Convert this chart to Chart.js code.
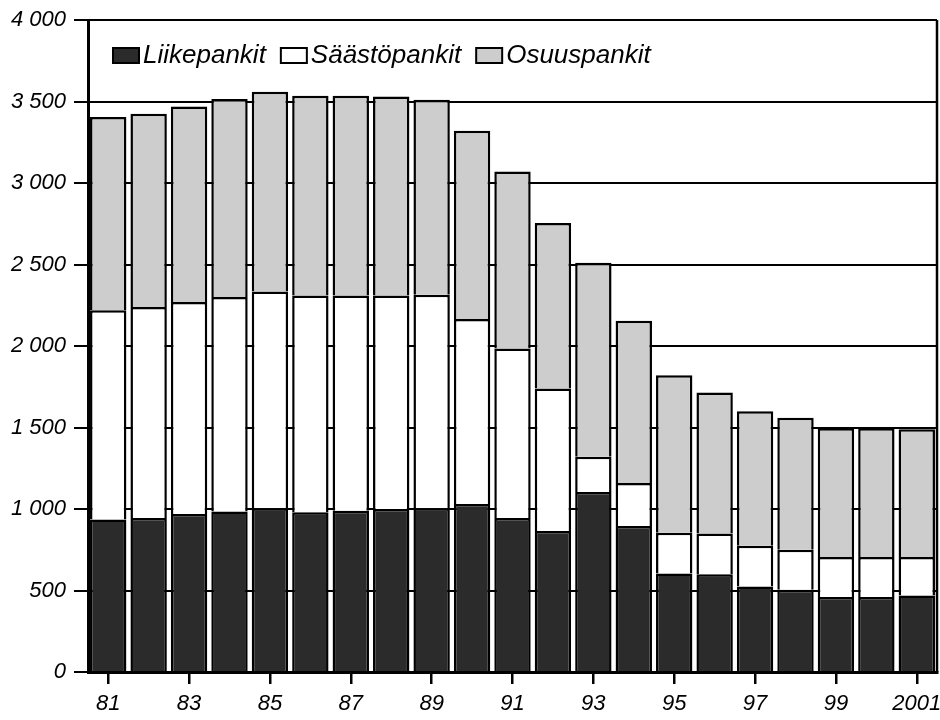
<!DOCTYPE html>
<html>
<head>
<meta charset="utf-8">
<script src="https://cdn.jsdelivr.net/npm/chart.js@4/dist/chart.umd.min.js"></script>
<style>
  html, body { margin: 0; padding: 0; background: #fff; }
  #wrap { width: 940px; height: 720px; }
</style>
</head>
<body>
<div id="wrap"><canvas id="barChart" width="940" height="720"></canvas></div>
<script>
// Data (1981-2001)
const years = ['81', '82', '83', '84', '85', '86', '87', '88', '89', '90',
  '91', '92', '93', '94', '95', '96', '97', '98', '99', '2000', '2001'];
const liikepankit = [935, 945, 970, 985, 1005, 980, 990, 1000, 1005, 1030,
  945, 865, 1105, 895, 605, 600, 525, 505, 460, 460, 470];
const saastopankit = [1285, 1295, 1300, 1315, 1330, 1330, 1320, 1310, 1310, 1135,
  1040, 875, 215, 265, 250, 250, 250, 245, 245, 245, 235];
const osuuspankit = [1185, 1185, 1200, 1215, 1225, 1225, 1225, 1220, 1195, 1155,
  1085, 1015, 1190, 995, 965, 865, 825, 810, 790, 790, 785];
const seriesNames = ['Liikepankit', 'Säästöpankit', 'Osuuspankit'];
const yTicks = [0, 500, 1000, 1500, 2000, 2500, 3000, 3500, 4000];

const FONT = '"Liberation Sans", Arial, sans-serif';

function fmt(v) {
  return String(v).replace(/\B(?=(\d{3})+(?!\d))/g, ' ');
}

// legend drawn inside the plot box, plus right frame line
const boxPlugin = {
  id: 'boxPlugin',
  afterDraw(chart) {
    const ctx = chart.ctx;
    const a = chart.chartArea;
    ctx.save();
    ctx.strokeStyle = '#000';
    ctx.lineWidth = 2.5;
    ctx.beginPath();
    ctx.moveTo(a.right, a.top);
    ctx.lineTo(a.right, a.bottom);
    ctx.stroke();

    let x = a.left + 25;
    const y = a.top + 36;
    ctx.font = 'italic 26px ' + FONT;
    ctx.textBaseline = 'middle';
    chart.data.datasets.forEach(ds => {
      ctx.fillStyle = ds.backgroundColor;
      ctx.fillRect(x, y - 8, 26, 15);
      ctx.lineWidth = 2;
      ctx.strokeStyle = '#000';
      ctx.strokeRect(x, y - 8, 26, 15);
      x += 30;
      ctx.fillStyle = '#000';
      ctx.fillText(ds.label, x, y);
      x += ctx.measureText(ds.label).width + 15;
    });
    ctx.restore();
  }
};

const ctx = document.getElementById('barChart').getContext('2d');
new Chart(ctx, {
  type: 'bar',
  data: {
    labels: years,
    datasets: [
      { label: seriesNames[0], data: liikepankit, backgroundColor: '#2b2b2b' },
      { label: seriesNames[1], data: saastopankit, backgroundColor: '#ffffff' },
      { label: seriesNames[2], data: osuuspankit, backgroundColor: '#cdcdcd' }
    ].map(d => Object.assign(d, {
      borderColor: '#000',
      borderWidth: 2.5,
      barPercentage: 0.9,
      categoryPercentage: 1.0
    }))
  },
  options: {
    responsive: false,
    animation: false,
    layout: { padding: { top: 20, right: 3, left: 0, bottom: 0 } },
    plugins: {
      legend: { display: false },
      tooltip: { enabled: false }
    },
    scales: {
      x: {
        stacked: true,
        afterFit(scale) {
          scale.height = 48;
          scale.paddingLeft = 0;
          scale.paddingRight = 0;
        },
        border: { color: '#000', width: 3 },
        grid: {
          offset: false,
          drawOnChartArea: false,
          drawTicks: true,
          tickLength: 12,
          lineWidth: 2.5,
          tickColor: c => (c.index % 2 === 0 ? '#000' : 'rgba(0,0,0,0)')
        },
        ticks: {
          autoSkip: false,
          maxRotation: 0,
          padding: 7,
          color: '#000',
          font: { family: FONT, size: 22, style: 'italic' },
          callback: (v, i) => (i % 2 === 0 ? years[i] : '')
        }
      },
      y: {
        stacked: true,
        min: 0,
        max: 4000,
        afterFit(scale) {
          scale.width = 88;
          scale.paddingTop = 0;
          scale.paddingBottom = 0;
        },
        afterBuildTicks(scale) { scale.ticks = yTicks.map(v => ({ value: v })); },
        border: { color: '#000', width: 3 },
        grid: {
          color: '#000',
          lineWidth: 2,
          tickLength: 14
        },
        ticks: {
          padding: 8,
          color: '#000',
          font: { family: FONT, size: 22, style: 'italic' },
          callback: v => fmt(v)
        }
      }
    }
  },
  plugins: [boxPlugin]
});
</script>
</body>
</html>
